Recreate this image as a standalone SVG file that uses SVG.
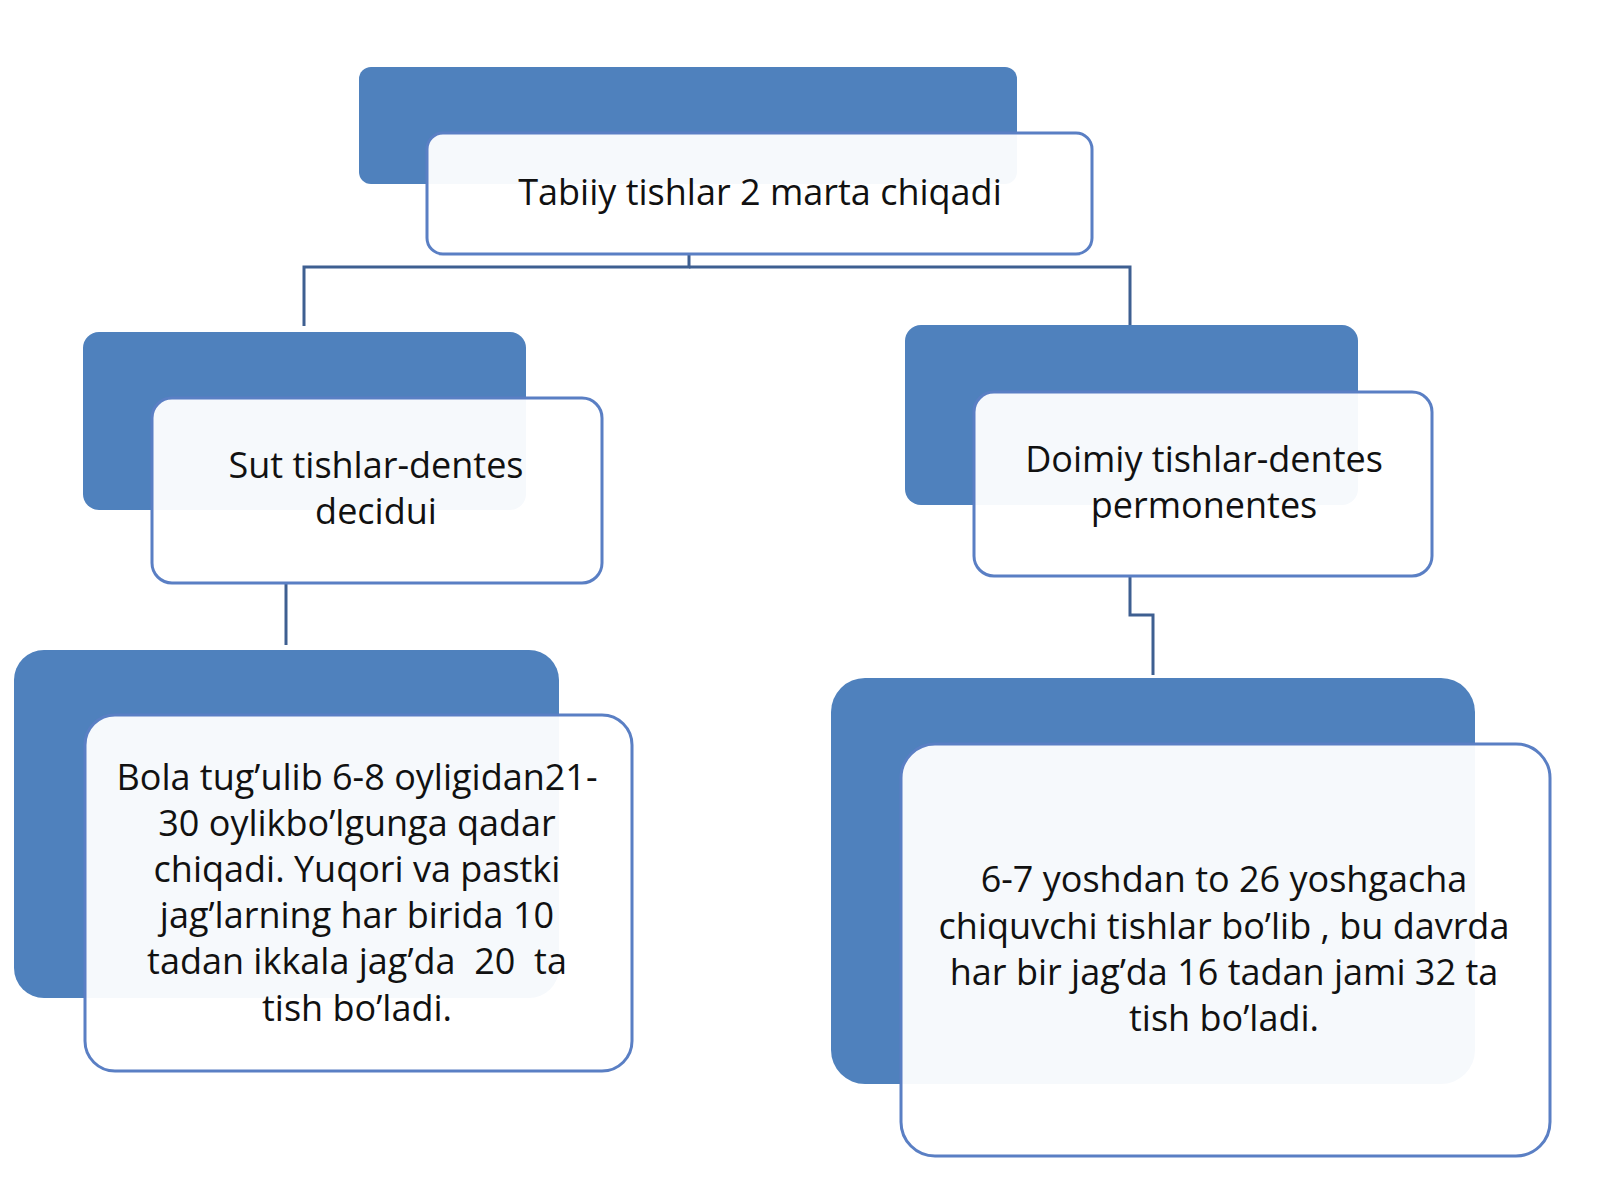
<svg xmlns="http://www.w3.org/2000/svg" width="1600" height="1200" viewBox="0 0 1600 1200">
<style>
.b{fill:#4f81bd}
.w{fill:#fff;fill-opacity:0.95;stroke:#5a7fc4;stroke-width:3}
.c{fill:none;stroke:#3e5f91;stroke-width:3}
text{font-family:"Open Sans","Liberation Sans",sans-serif;font-size:36px;fill:#111;text-anchor:middle}
</style>
<rect width="1600" height="1200" fill="#fff"/>
<g id="connectors">
<path class="c" d="M689,254 V267 H304 V326"/>
<path class="c" d="M689,267 H1130 V326"/>
<path class="c" d="M286,583 V645"/>
<path class="c" d="M1130,576 V615 H1153 V675"/>
</g>
<g id="top">
<rect class="b" x="359" y="67" width="658" height="117" rx="12"/>
<rect class="w" x="427" y="133" width="665" height="121" rx="16"/>
<text x="760" y="205">Tabiiy tishlar 2 marta chiqadi</text>
</g>
<g id="sut">
<rect class="b" x="83" y="332" width="443" height="178" rx="16"/>
<rect class="w" x="152" y="398" width="450" height="185" rx="20"/>
<text x="376" y="478">Sut tishlar-dentes</text>
<text x="376" y="524">decidui</text>
</g>
<g id="doimiy">
<rect class="b" x="905" y="325" width="453" height="180" rx="16"/>
<rect class="w" x="974" y="392" width="458" height="184" rx="20"/>
<text x="1204" y="472">Doimiy tishlar-dentes</text>
<text x="1204" y="518">permonentes</text>
</g>
<g id="bola">
<rect class="b" x="14" y="650" width="545" height="348" rx="30"/>
<rect class="w" x="85" y="715" width="547" height="356" rx="30"/>
<text x="357" y="790">Bola tug’ulib 6-8 oyligidan21-</text>
<text x="357" y="836">30 oylikbo’lgunga qadar</text>
<text x="357" y="882">chiqadi. Yuqori va pastki</text>
<text x="357" y="928">jag’larning har birida 10</text>
<text x="357" y="974" xml:space="preserve">tadan ikkala jag’da  20  ta</text>
<text x="357" y="1021">tish bo’ladi.</text>
</g>
<g id="yosh">
<rect class="b" x="831" y="678" width="644" height="406" rx="34"/>
<rect class="w" x="901" y="744" width="649" height="412" rx="34"/>
<text x="1224" y="892">6-7 yoshdan to 26 yoshgacha</text>
<text x="1224" y="939">chiquvchi tishlar bo’lib , bu davrda</text>
<text x="1224" y="985">har bir jag’da 16 tadan jami 32 ta</text>
<text x="1224" y="1031">tish bo’ladi.</text>
</g>
</svg>
